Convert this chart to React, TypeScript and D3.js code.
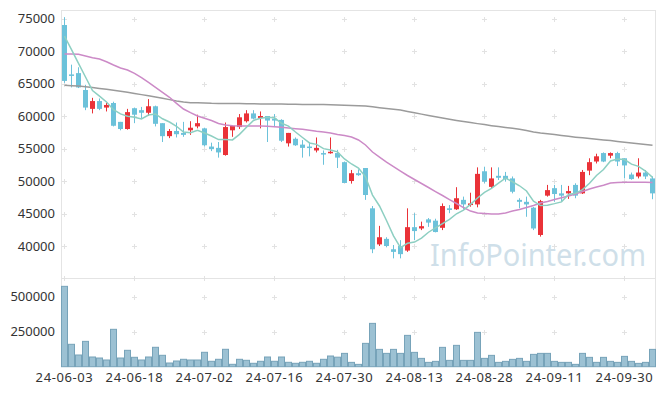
import * as d3 from "d3";
import { useEffect, useRef } from "react";

const dates = [
  "24-06-03", "24-06-04", "24-06-05", "24-06-07", "24-06-10", "24-06-11", "24-06-12", "24-06-13", "24-06-14", "24-06-17",
  "24-06-18", "24-06-19", "24-06-20", "24-06-21", "24-06-24", "24-06-25", "24-06-26", "24-06-27", "24-06-28", "24-07-01",
  "24-07-02", "24-07-03", "24-07-04", "24-07-05", "24-07-08", "24-07-09", "24-07-10", "24-07-11", "24-07-12", "24-07-15",
  "24-07-16", "24-07-17", "24-07-18", "24-07-19", "24-07-22", "24-07-23", "24-07-24", "24-07-25", "24-07-26", "24-07-29",
  "24-07-30", "24-07-31", "24-08-01", "24-08-02", "24-08-05", "24-08-06", "24-08-07", "24-08-08", "24-08-09", "24-08-12",
  "24-08-13", "24-08-14", "24-08-16", "24-08-19", "24-08-20", "24-08-21", "24-08-22", "24-08-23", "24-08-26", "24-08-27",
  "24-08-28", "24-08-29", "24-08-30", "24-09-02", "24-09-03", "24-09-04", "24-09-05", "24-09-06", "24-09-09", "24-09-10",
  "24-09-11", "24-09-12", "24-09-13", "24-09-19", "24-09-20", "24-09-23", "24-09-24", "24-09-25", "24-09-26", "24-09-27",
  "24-09-30", "24-10-02", "24-10-04", "24-10-07", "24-10-08",
];

const opens = [74000, 66400, 66600, 64000, 61100, 62300, 61300, 62000, 59100, 58000, 61200, 60900, 60500, 61500, 58900, 56900, 57700, 57400, 57800, 58400, 58100, 55300, 55100, 54000, 57800, 58300, 59200, 60400, 59700, 60000, 59600, 59400, 55800, 56500, 55600, 55300, 54700, 54300, 54300, 54300, 52900, 50000, 51200, 52000, 45800, 40250, 41100, 39500, 40000, 39300, 42900, 42700, 44100, 43900, 42800, 45800, 45650, 47100, 46300, 46400, 51500, 49100, 50800, 50800, 50400, 47100, 46800, 45900, 41700, 47750, 48900, 48100, 48100, 49400, 48100, 51600, 53000, 54300, 53900, 54300, 53500, 51000, 50700, 51300, 50400];
const highs = [75200, 67900, 67500, 64800, 62800, 62700, 62000, 62200, 59100, 61100, 61300, 61400, 62600, 61600, 58900, 58000, 59000, 59100, 59200, 60200, 58200, 55900, 56000, 59000, 58500, 60300, 60900, 60900, 60700, 60000, 60300, 59500, 57400, 56700, 56300, 56000, 56700, 54700, 56700, 54800, 53000, 51700, 51800, 52000, 46150, 43100, 41350, 40150, 40900, 45800, 45050, 43750, 44300, 44200, 46550, 46300, 49050, 47600, 48200, 52100, 52200, 52100, 52100, 51400, 50700, 47350, 47600, 46000, 47100, 49400, 49400, 49400, 49250, 49650, 51700, 53500, 54200, 54400, 54400, 54500, 53500, 51300, 53500, 51700, 50700];
const lows = [65100, 64400, 64300, 60900, 60400, 60900, 60700, 58400, 57800, 57900, 58900, 59700, 60000, 58400, 56000, 56600, 56700, 56800, 57100, 58100, 55300, 54600, 53600, 53900, 56800, 58000, 59000, 59500, 58100, 56000, 58300, 56000, 55300, 55400, 53600, 53800, 54400, 52500, 54200, 52000, 49700, 49600, 50800, 47100, 38900, 40000, 39800, 38100, 38100, 39100, 40900, 42450, 42950, 42100, 42450, 45050, 45550, 45650, 46050, 45950, 49650, 48900, 50150, 49900, 48100, 45800, 44500, 42450, 41450, 47600, 46800, 46800, 47250, 47350, 48000, 50900, 52700, 52900, 53500, 52300, 50400, 50200, 50400, 50300, 47200];
const closes = [65400, 66200, 64400, 61300, 62300, 61100, 61700, 58500, 58000, 60600, 60200, 60500, 61500, 58800, 56900, 57700, 57200, 57100, 58200, 58900, 55500, 54900, 54400, 58300, 58500, 59800, 60400, 59600, 60000, 59300, 59300, 56200, 57400, 55500, 55100, 55100, 55100, 54100, 54500, 53600, 49700, 51200, 50900, 47850, 39500, 41350, 40000, 39100, 38750, 42900, 42300, 43050, 43600, 42150, 46150, 45550, 47350, 46400, 46550, 51100, 49900, 50400, 50500, 50300, 48350, 46800, 46400, 42700, 46900, 48600, 48000, 47750, 48450, 47750, 51400, 52900, 53800, 53000, 54300, 53000, 52400, 50300, 51300, 50700, 48100];
const volumes = [574000, 160000, 83600, 181000, 69300, 62100, 47900, 267000, 62100, 117000, 67100, 47900, 69300, 138600, 81400, 26400, 40700, 52900, 47900, 47900, 102900, 38600, 52900, 124300, 17100, 52900, 45700, 24300, 38600, 69300, 38600, 69300, 31400, 24300, 31400, 38600, 24300, 52900, 76400, 68000, 95200, 31000, 16700, 166700, 309500, 123800, 95200, 123800, 95200, 223800, 102400, 59500, 31000, 38100, 138100, 45200, 152400, 45200, 45200, 245200, 59500, 81000, 31000, 38100, 52400, 59500, 38100, 88100, 95200, 95200, 38100, 31000, 31000, 16700, 95200, 66700, 31000, 66700, 38100, 31000, 73800, 38100, 23800, 31000, 123800];

// 이동평균선 (5일 / 20일 / 60일)
const ma5 = [72300, 70200, 68100, 66000, 63920, 63060, 62160, 60980, 60320, 59980, 59800, 59560, 60160, 60320, 59580, 59080, 58420, 57540, 57420, 57820, 57380, 56920, 56380, 56400, 56320, 57180, 58280, 59320, 59660, 59820, 59720, 58880, 58440, 57540, 56700, 55860, 55640, 54980, 54780, 54480, 53400, 52620, 51980, 50650, 47830, 46160, 43920, 41560, 39740, 40420, 40610, 41220, 42120, 42800, 43450, 44100, 44960, 45520, 46400, 47390, 48260, 48870, 49690, 50440, 49890, 49270, 48470, 46910, 46230, 46280, 46520, 46790, 47940, 48110, 48670, 49650, 50860, 51770, 53080, 53400, 53300, 52600, 52260, 51540, 50560];
const ma20 = [69540, 69540, 69490, 69230, 68970, 68770, 68350, 67850, 67380, 67080, 66570, 65900, 65180, 64420, 63650, 62880, 61950, 61080, 60510, 60000, 59650, 59310, 58850, 58620, 58510, 58460, 58460, 58460, 58460, 58410, 58350, 58260, 58150, 58050, 57950, 57800, 57650, 57540, 57380, 57150, 57000, 56770, 56310, 55540, 54460, 53690, 52920, 52230, 51540, 50850, 50230, 49620, 49000, 48380, 47770, 47150, 46540, 45920, 45380, 45070, 45000, 44920, 44920, 45070, 45380, 45610, 45920, 46230, 46620, 46850, 47150, 47430, 47690, 48000, 48380, 48770, 49080, 49340, 49690, 49770, 49800, 49800, 49800, 49800, 49770];
const ma60 = [64720, 64660, 64600, 64520, 64380, 64250, 64110, 63970, 63820, 63650, 63460, 63290, 63110, 62920, 62740, 62520, 62320, 62170, 62060, 62030, 62000, 61950, 61940, 61920, 61910, 61910, 61890, 61880, 61860, 61850, 61850, 61830, 61820, 61800, 61790, 61790, 61770, 61760, 61740, 61710, 61660, 61620, 61590, 61540, 61420, 61280, 61150, 61030, 60910, 60710, 60510, 60290, 60090, 59890, 59690, 59490, 59310, 59150, 59000, 58830, 58680, 58520, 58380, 58250, 58110, 57950, 57770, 57550, 57380, 57260, 57140, 57000, 56880, 56750, 56640, 56540, 56430, 56320, 56220, 56090, 55970, 55850, 55740, 55620, 55510];

const priceTicks = [40000, 45000, 50000, 55000, 60000, 65000, 70000, 75000];
const volumeTicks = [250000, 500000];

export default function CandleChart() {
  const svgRef = useRef<SVGSVGElement>(null);

  useEffect(() => {
    document.body.style.margin = "0";
    render();
  }, []);

  const render = () => {
    const width = 665;
    const height = 396;
    const left = 61;
    const right = 656;
    const top = 10;
    const split = 278;
    const bottom = 366.7;
    const font = "'Noto Sans', sans-serif";

    const svg = d3.select(svgRef.current).attr("width", width).attr("height", height);
    svg.selectAll("*").remove();

    const x = d3.scaleBand<number>().domain(d3.range(dates.length)).range([left, right]);
    const cx = (i: number) => x(i)! + 3.5;
    const yP = d3.scaleLinear().domain([35080, 76310]).range([split, top]);
    const yV = d3.scaleLinear().domain([0, 633600]).range([bottom, split]);

    // 워터마크
    svg.append("text")
      .attr("x", 430).attr("y", 266)
      .attr("font-family", font).attr("font-size", 31)
      .attr("textLength", 216).attr("lengthAdjust", "spacingAndGlyphs")
      .attr("fill", "#cfdfe9")
      .text("InfoPointer.com");

    // 테두리
    const frame = svg.append("g").attr("stroke", "#e4e4e4").attr("fill", "none");
    frame.append("line").attr("x1", left + 0.5).attr("x2", left + 0.5).attr("y1", top).attr("y2", bottom);
    frame.append("line").attr("x1", 655.5).attr("x2", 655.5).attr("y1", top).attr("y2", bottom);
    frame.append("line").attr("x1", left).attr("x2", 656).attr("y1", top + 0.5).attr("y2", top + 0.5);
    frame.append("line").attr("x1", left).attr("x2", 656).attr("y1", split + 0.5).attr("y2", split + 0.5);

    // 그리드 (+ 표시)
    const cols = d3.range(0, dates.length, 10);
    const rows = [...priceTicks.map((v) => Math.round(yP(v))), ...volumeTicks.map((v) => Math.round(yV(v))), split];
    const grid = svg.append("g").attr("stroke", "#e2e2e2").attr("stroke-width", 1);
    rows.forEach((ry) => {
      cols.forEach((c) => {
        const gx = Math.floor(cx(c)) + 0.5;
        grid.append("line").attr("x1", gx - 2.5).attr("x2", gx + 2.5).attr("y1", ry + 0.5).attr("y2", ry + 0.5);
        grid.append("line").attr("x1", gx).attr("x2", gx).attr("y1", ry - 2).attr("y2", ry + 3);
      });
    });

    // 거래량
    svg.append("g")
      .selectAll("rect")
      .data(volumes)
      .join("rect")
      .attr("x", (d, i) => x(i)! + 0.5)
      .attr("width", 6)
      .attr("y", (d) => yV(d))
      .attr("height", (d) => bottom - yV(d))
      .attr("fill", "#9cc1d3")
      .attr("stroke", "#77a3b9")
      .attr("stroke-width", 1);

    // 캔들
    const up = "#ea3238";
    const down = "#6cc2da";
    const candles = svg.append("g")
      .selectAll("g")
      .data(dates.map((d, i) => i))
      .join("g")
      .attr("fill", (i) => (closes[i] >= opens[i] ? up : down))
      .attr("stroke", (i) => (closes[i] >= opens[i] ? up : down));
    candles.append("line")
      .attr("x1", (i) => cx(i)).attr("x2", (i) => cx(i))
      .attr("y1", (i) => yP(highs[i])).attr("y2", (i) => yP(lows[i]))
      .attr("stroke-width", 1);
    candles.append("rect")
      .attr("x", (i) => x(i)! + 1)
      .attr("width", 5)
      .attr("y", (i) => yP(Math.max(opens[i], closes[i])))
      .attr("height", (i) => Math.max(1.5, Math.abs(yP(opens[i]) - yP(closes[i]))))
      .attr("stroke", "none");

    // 이동평균선
    const line = d3.line<number>().x((d, i) => cx(i)).y((d) => yP(d));
    [
      { data: ma60, color: "#9b9b9b" },
      { data: ma20, color: "#cc8ac7" },
      { data: ma5, color: "#8dcfc2" },
    ].forEach((s) => {
      svg.append("path")
        .attr("d", line(s.data))
        .attr("fill", "none")
        .attr("stroke", s.color)
        .attr("stroke-width", 1.5);
    });

    // 축 라벨
    const labels = svg.append("g").attr("font-family", font).attr("font-size", 13).attr("fill", "#333");
    labels.selectAll(".py")
      .data(priceTicks)
      .join("text")
      .attr("x", 55)
      .attr("y", (d) => yP(d))
      .attr("dy", "0.35em")
      .attr("text-anchor", "end")
      .text((d) => d);
    labels.selectAll(".vy")
      .data(volumeTicks)
      .join("text")
      .attr("x", 55)
      .attr("y", (d) => yV(d))
      .attr("dy", "0.35em")
      .attr("text-anchor", "end")
      .text((d) => d);
    labels.selectAll(".xd")
      .data(cols)
      .join("text")
      .attr("x", (i) => cx(i))
      .attr("y", 382)
      .attr("text-anchor", "middle")
      .attr("letter-spacing", 0.6)
      .text((i) => dates[i]);
  };

  return <svg ref={svgRef} style={{ display: "block" }}></svg>;
}
